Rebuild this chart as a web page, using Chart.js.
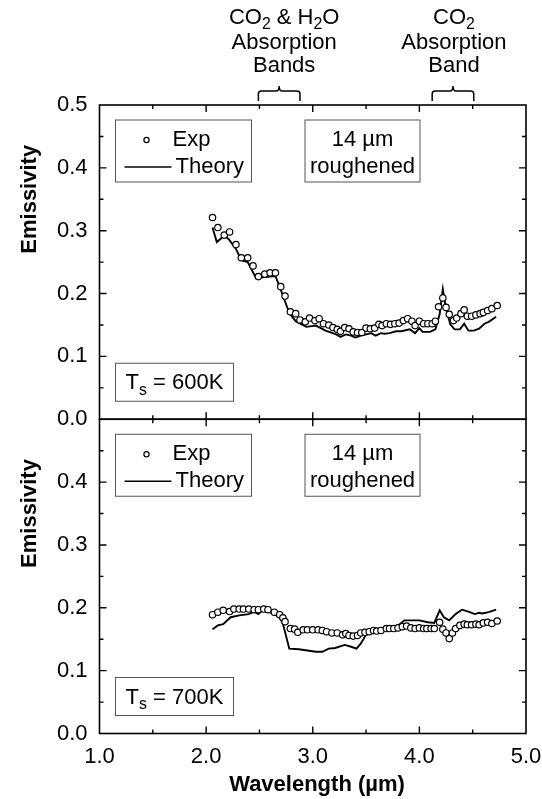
<!DOCTYPE html>
<html><head><meta charset="utf-8">
<script src="https://cdn.jsdelivr.net/npm/chart.js@4.4.1/dist/chart.umd.min.js"></script>
<style>html,body{margin:0;padding:0;background:#fff;}canvas{display:block;}</style>
</head><body>
<canvas id="c" width="542" height="799"></canvas>
<script>
// ---- data ----
const wlExp600 = [2.06,2.11,2.17,2.22,2.28,2.33,2.39,2.44,2.49,2.55,2.60,2.65,2.70,2.74,2.79,2.84,2.88,2.93,2.97,3.02,3.06,3.10,3.15,3.19,3.23,3.26,3.30,3.34,3.38,3.42,3.46,3.50,3.54,3.58,3.62,3.65,3.69,3.73,3.77,3.81,3.85,3.89,3.93,3.96,4.00,4.04,4.08,4.12,4.15,4.18,4.22,4.25,4.28,4.32,4.35,4.39,4.42,4.45,4.49,4.53,4.57,4.60,4.64,4.68,4.73];
const exp600   = [0.321,0.305,0.293,0.298,0.278,0.257,0.257,0.244,0.227,0.231,0.233,0.233,0.211,0.196,0.171,0.168,0.158,0.155,0.161,0.157,0.160,0.152,0.150,0.146,0.143,0.140,0.146,0.144,0.139,0.138,0.138,0.145,0.144,0.145,0.151,0.149,0.152,0.151,0.152,0.153,0.157,0.160,0.156,0.149,0.156,0.152,0.152,0.152,0.156,0.179,0.193,0.178,0.167,0.157,0.161,0.168,0.174,0.164,0.164,0.166,0.168,0.170,0.173,0.176,0.181];
const wlTh600 = [2.06,2.10,2.17,2.21,2.28,2.33,2.39,2.47,2.53,2.65,2.70,2.78,2.84,2.94,3.03,3.12,3.22,3.26,3.31,3.36,3.40,3.45,3.50,3.55,3.59,3.64,3.67,3.72,3.78,3.83,3.91,3.96,4.00,4.03,4.10,4.15,4.19,4.22,4.25,4.29,4.33,4.38,4.42,4.46,4.51,4.56,4.61,4.65,4.72];
const th600   = [0.305,0.282,0.292,0.287,0.271,0.253,0.250,0.224,0.226,0.228,0.206,0.169,0.156,0.147,0.149,0.141,0.135,0.131,0.135,0.133,0.130,0.133,0.135,0.137,0.133,0.137,0.136,0.137,0.140,0.140,0.143,0.137,0.145,0.139,0.139,0.143,0.167,0.207,0.176,0.151,0.143,0.143,0.152,0.141,0.141,0.144,0.152,0.155,0.163];

const wlExp700 = [2.06,2.11,2.16,2.22,2.26,2.31,2.35,2.40,2.45,2.49,2.54,2.58,2.64,2.69,2.72,2.74,2.79,2.83,2.86,2.91,2.95,3.00,3.05,3.09,3.13,3.18,3.23,3.28,3.31,3.34,3.38,3.42,3.45,3.49,3.53,3.57,3.60,3.64,3.69,3.72,3.76,3.80,3.84,3.88,3.92,3.96,4.00,4.04,4.07,4.11,4.14,4.19,4.22,4.25,4.28,4.31,4.34,4.38,4.42,4.45,4.49,4.53,4.56,4.60,4.64,4.68,4.73];
const exp700   = [0.189,0.193,0.196,0.194,0.198,0.198,0.198,0.198,0.197,0.197,0.198,0.197,0.193,0.189,0.184,0.178,0.167,0.166,0.161,0.165,0.165,0.165,0.165,0.164,0.162,0.160,0.160,0.157,0.159,0.156,0.155,0.156,0.160,0.161,0.162,0.164,0.163,0.164,0.167,0.167,0.167,0.168,0.170,0.171,0.168,0.167,0.168,0.167,0.167,0.167,0.167,0.177,0.166,0.160,0.151,0.160,0.167,0.172,0.174,0.173,0.173,0.174,0.173,0.176,0.177,0.175,0.179];
const wlTh700 = [2.06,2.11,2.16,2.23,2.31,2.40,2.45,2.49,2.54,2.59,2.69,2.72,2.78,2.87,3.03,3.09,3.15,3.21,3.30,3.36,3.41,3.45,3.50,3.56,3.63,3.73,3.81,3.86,3.92,4.00,4.08,4.14,4.19,4.23,4.28,4.34,4.40,4.46,4.52,4.56,4.59,4.65,4.72];
const th700   = [0.166,0.172,0.174,0.185,0.188,0.190,0.194,0.190,0.198,0.194,0.185,0.175,0.135,0.134,0.130,0.130,0.135,0.136,0.141,0.138,0.135,0.143,0.157,0.160,0.165,0.167,0.173,0.180,0.180,0.180,0.177,0.176,0.196,0.185,0.180,0.190,0.197,0.194,0.190,0.192,0.191,0.193,0.197];

const xTickValues = [1, 2, 3, 4, 5];
const yTickValues = [0, 0.1, 0.2, 0.3, 0.4, 0.5];
const panelTemps = ['600K', '700K'];
const absorptionBands = [[2.49, 2.88], [4.12, 4.51]];

const FONT = "'Liberation Sans', Arial, Helvetica, sans-serif";

function pts(xs, ys) { return xs.map((x, i) => ({ x: x, y: ys[i] })); }

function richWidth(ctx, parts, size) {
  let w = 0;
  parts.forEach(p => {
    ctx.font = (p.sub ? size * 0.72 : size) + 'px ' + FONT;
    p.w = ctx.measureText(p.t).width; w += p.w;
  });
  return w;
}
function drawRich(ctx, parts, x, y, size, align) {
  const w = richWidth(ctx, parts, size);
  let cx = align === 'center' ? x - w / 2 : x;
  ctx.textAlign = 'left';
  ctx.textBaseline = 'middle';
  parts.forEach(p => {
    ctx.font = (p.sub ? size * 0.72 : size) + 'px ' + FONT;
    ctx.fillText(p.t, cx, p.sub ? y + size * 0.32 : y);
    cx += p.w;
  });
}

const deco = {
  id: 'deco',
  afterDraw(chart) {
    const ctx = chart.ctx;
    const xs = chart.scales.x;
    const panels = [chart.scales.yTop, chart.scales.yBot];
    const L = chart.chartArea.left, R = chart.chartArea.right;
    ctx.save();
    ctx.strokeStyle = '#000';
    ctx.fillStyle = '#000';

    panels.forEach((ys, pi) => {
      const T = ys.top, B = ys.bottom;
      ctx.lineWidth = 1.6;
      ctx.strokeRect(L, T, R - L, B - T);
      ctx.lineWidth = 1.4;
      for (let v = 1.5; v < 5; v += 0.5) {
        const px = xs.getPixelForValue(v);
        const len = Math.abs(v - Math.round(v)) < 1e-6 ? 7 : 4;
        ctx.beginPath();
        ctx.moveTo(px, B); ctx.lineTo(px, B - len);
        ctx.moveTo(px, T); ctx.lineTo(px, T + len);
        ctx.stroke();
      }
      for (let k = 1; k < 10; k++) {
        const v = k * 0.05;
        const py = ys.getPixelForValue(v);
        const len = k % 2 === 0 ? 7 : 4;
        ctx.beginPath();
        ctx.moveTo(L, py); ctx.lineTo(L + len, py);
        ctx.moveTo(R, py); ctx.lineTo(R - len, py);
        ctx.stroke();
      }

      const bx = L + 16, by = T + 15, bw = 136, bh = 62;
      ctx.lineWidth = 1;
      ctx.strokeStyle = '#555';
      ctx.strokeRect(bx, by, bw, bh);
      ctx.strokeStyle = '#000';
      ctx.beginPath();
      ctx.arc(bx + 31, by + 20, 2.6, 0, Math.PI * 2);
      ctx.fillStyle = '#fff'; ctx.fill();
      ctx.lineWidth = 1.2; ctx.stroke();
      ctx.fillStyle = '#000';
      ctx.lineWidth = 1.6;
      ctx.beginPath(); ctx.moveTo(bx + 9, by + 47); ctx.lineTo(bx + 56, by + 47); ctx.stroke();
      ctx.font = '22px ' + FONT;
      ctx.textAlign = 'left'; ctx.textBaseline = 'middle';
      ctx.fillText('Exp', bx + 57, by + 20);
      ctx.fillText('Theory', bx + 60, by + 47);

      const sx = L + 205.5, sw = 115;
      ctx.lineWidth = 1; ctx.strokeStyle = '#555';
      ctx.strokeRect(sx, by, sw, bh);
      ctx.strokeStyle = '#000';
      ctx.textAlign = 'center';
      ctx.fillText('14 \u00b5m', sx + sw / 2, by + 20);
      ctx.fillText('roughened', sx + sw / 2, by + 47);

      const tx = L + 16, tw = 118, th = 38, ty = B - 56;
      ctx.lineWidth = 1; ctx.strokeStyle = '#555';
      ctx.strokeRect(tx, ty, tw, th);
      ctx.strokeStyle = '#000';
      drawRich(ctx, [{ t: 'T' }, { t: 's', sub: true }, { t: ' = ' + panelTemps[pi] }], tx + tw / 2, ty + th / 2 + 1, 22, 'center');

      ctx.save();
      ctx.translate(30, ys.getPixelForValue(0.35));
      ctx.rotate(-Math.PI / 2);
      ctx.font = 'bold 22px ' + FONT;
      ctx.textAlign = 'center'; ctx.textBaseline = 'middle';
      ctx.fillText('Emissivity', 0, 0);
      ctx.restore();
    });

    ctx.font = 'bold 22px ' + FONT;
    ctx.textAlign = 'center'; ctx.textBaseline = 'middle';
    ctx.fillText('Wavelength (\u00b5m)', 317, 785);

    const labels = [
      [[{ t: 'CO' }, { t: '2', sub: true }, { t: ' & H' }, { t: '2', sub: true }, { t: 'O' }], [{ t: 'Absorption' }], [{ t: 'Bands' }]],
      [[{ t: 'CO' }, { t: '2', sub: true }], [{ t: 'Absorption' }], [{ t: 'Band' }]]
    ];
    const top = chart.scales.yTop.top;
    absorptionBands.forEach((band, i) => {
      const x1 = xs.getPixelForValue(band[0]);
      const x2 = xs.getPixelForValue(band[1]);
      const mid = (x1 + x2) / 2;
      ctx.lineWidth = 1.5;
      ctx.beginPath();
      ctx.moveTo(x1, top - 4);
      ctx.lineTo(x1, top - 11);
      ctx.quadraticCurveTo(x1, top - 14, x1 + 3, top - 14);
      ctx.lineTo(mid - 3, top - 14);
      ctx.quadraticCurveTo(mid, top - 14, mid, top - 19);
      ctx.quadraticCurveTo(mid, top - 14, mid + 3, top - 14);
      ctx.lineTo(x2 - 3, top - 14);
      ctx.quadraticCurveTo(x2, top - 14, x2, top - 11);
      ctx.lineTo(x2, top - 4);
      ctx.stroke();
      const lines = labels[i];
      const cx = i === 0 ? mid + 5 : mid + 1;
      drawRich(ctx, lines[0], cx, 18, 22, 'center');
      drawRich(ctx, lines[1], cx, 43, 22, 'center');
      drawRich(ctx, lines[2], cx, 66, 22, 'center');
    });
    ctx.restore();
  }
};

const tickFont = { family: FONT, size: 22 };
function yAxis(weight, hideTop) {
  return {
    type: 'linear', position: 'left', stack: 'panels', stackWeight: 1, weight: weight,
    min: 0, max: 0.5,
    grid: { display: false, drawTicks: false },
    border: { display: false },
    afterBuildTicks: s => { s.ticks = yTickValues.map(v => ({ value: v })); },
    ticks: {
      padding: 12, color: '#000', font: tickFont,
      callback: v => (hideTop && v > 0.45) ? '' : v.toFixed(1)
    },
    afterFit: s => { s.width = 99.5; s.paddingTop = 0; s.paddingBottom = 0; }
  };
}

new Chart(document.getElementById('c'), {
  type: 'scatter',
  data: {
    datasets: [
      { label: 'Exp', data: pts(wlExp600, exp600), yAxisID: 'yTop', showLine: false,
        pointRadius: 3.2, pointBorderWidth: 1.2, pointBackgroundColor: '#fff', pointBorderColor: '#000', borderColor: '#000', backgroundColor: '#fff' },
      { label: 'Exp', data: pts(wlExp700, exp700), yAxisID: 'yBot', showLine: false,
        pointRadius: 3.2, pointBorderWidth: 1.2, pointBackgroundColor: '#fff', pointBorderColor: '#000', borderColor: '#000', backgroundColor: '#fff' },
      { label: 'Theory', data: pts(wlTh600, th600), yAxisID: 'yTop', showLine: true,
        pointRadius: 0, borderWidth: 1.9, borderColor: '#000', tension: 0, fill: false },
      { label: 'Theory', data: pts(wlTh700, th700), yAxisID: 'yBot', showLine: true,
        pointRadius: 0, borderWidth: 1.9, borderColor: '#000', tension: 0, fill: false }
    ]
  },
  options: {
    responsive: false, animation: false, devicePixelRatio: 1,
    layout: { padding: { top: 105, right: 0, bottom: 0, left: 0 } },
    plugins: { legend: { display: false }, tooltip: { enabled: false } },
    scales: {
      x: {
        type: 'linear', position: 'bottom', min: 1, max: 5,
        grid: { display: false, drawTicks: false },
        border: { display: false },
        afterBuildTicks: s => { s.ticks = xTickValues.map(v => ({ value: v })); },
        ticks: { padding: 10, color: '#000', font: tickFont, maxRotation: 0, autoSkip: false, callback: v => v.toFixed(1) },
        afterFit: s => { s.height = 65.5; s.paddingRight = 16; s.paddingLeft = 0; }
      },
      yTop: yAxis(2, false),
      yBot: yAxis(1, true)
    }
  },
  plugins: [deco]
});
</script>
</body></html>
